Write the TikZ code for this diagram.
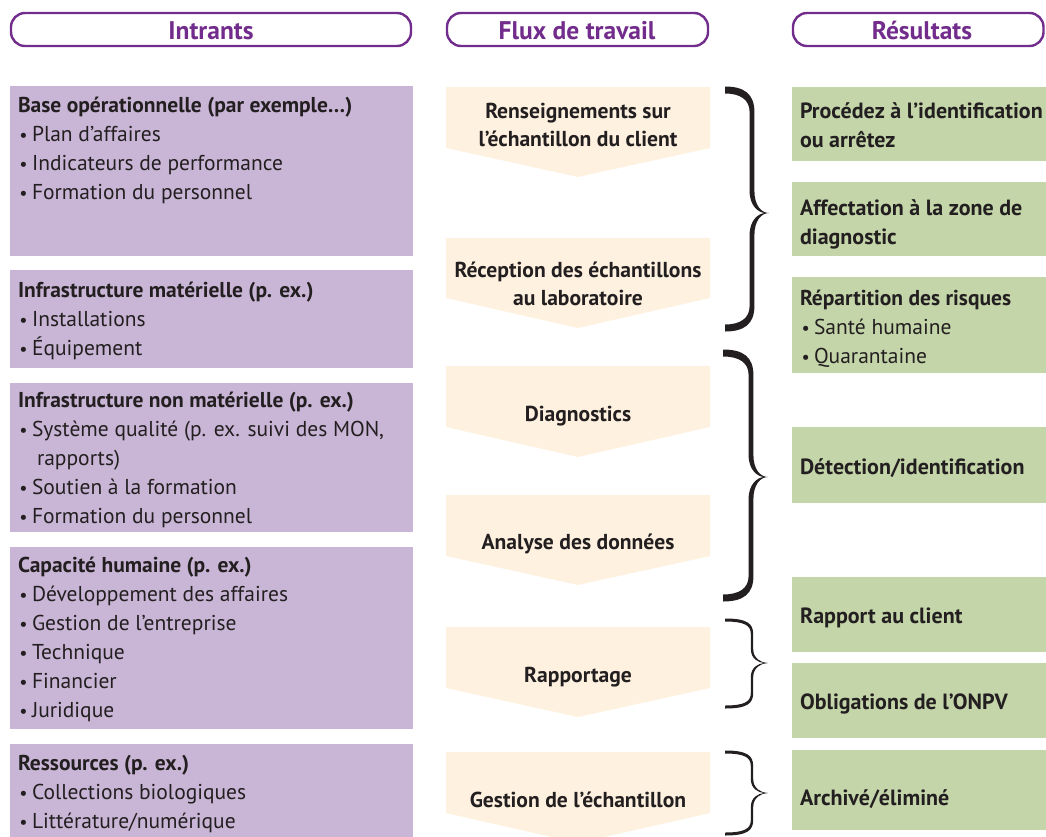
\documentclass[tikz,border=0pt]{standalone}
\usepackage{fontspec}
\setmainfont{PT Sans}
\definecolor{inbox}{HTML}{C9B6D6}
\definecolor{flowbox}{HTML}{FEF1DF}
\definecolor{outbox}{HTML}{C3D5A9}
\definecolor{hdr}{HTML}{722C8C}
\definecolor{ink}{HTML}{231F20}

% bullet followed by the item text
\newcommand\itm{\makebox[14pt][l]{\hspace{1.5pt}\scalebox{0.85}{•}}}

% downward chevron of the work-flow column: top, foot of the sides, tip
\newcommand\flowshape[3]{%
  \fill[flowbox] (446,#1) -- (710,#1) -- (710,#2) -- (578,#3) -- (446,#2) -- cycle;}

% filled curly brace: left x, spine x, tip x, top y, tip y, bottom y,
% half thickness at the ends, half thickness of the spine, hook radius
\newcommand\curlybrace[9]{%
  \fill[ink]
   (#1,#4-#7)
   .. controls ({#2+#8-0.45*#9},#4-#7) and (#2+#8,{#4-#7+0.35*#9}) .. (#2+#8,#4+#9)
   -- (#2+#8,#5-#9)
   .. controls (#2+#8,{#5-0.35*#9}) and ({#3-0.45*(#3-#2)},#5) .. (#3,#5)
   .. controls ({#3-0.45*(#3-#2)},#5) and (#2+#8,{#5+0.35*#9}) .. (#2+#8,#5+#9)
   -- (#2+#8,#6-#9)
   .. controls (#2+#8,{#6+#7-0.35*#9}) and ({#2+#8-0.45*#9},#6+#7) .. (#1,#6+#7)
   -- (#1,#6-#7)
   .. controls ({#2-#8-0.4*#9},#6-#7) and (#2-#8,{#6-#7-0.3*#9}) .. (#2-#8,#6-#9)
   -- (#2-#8,#5+#9)
   .. controls (#2-#8,{#5+0.3*#9}) and ({#3-0.6*(#3-#2)},#5+0.5) .. ({#3-0.25*(#3-#2)},#5)
   .. controls ({#3-0.6*(#3-#2)},#5-0.5) and (#2-#8,{#5-0.3*#9}) .. (#2-#8,#5-#9)
   -- (#2-#8,#4+#9)
   .. controls (#2-#8,{#4+#7+0.3*#9}) and ({#2-#8-0.4*#9},#4+#7) .. (#1,#4+#7)
   -- cycle;}

\begin{document}
\begin{tikzpicture}[x=1pt,y=-1pt,
  every node/.style={inner sep=0pt, outer sep=0pt, text=ink},
  % multi-line texts are placed by the baseline of their last line
  body/.style={font=\fontsize{21.5}{29}\selectfont, align=left, anchor=base west},
  flowtext/.style={font=\bfseries\fontsize{21.6}{28}\selectfont, align=center, anchor=base},
  outtext/.style={font=\fontsize{21.5}{29}\selectfont, align=left, anchor=base west},
  outbold/.style={outtext, font=\bfseries\fontsize{22}{29}\selectfont},
  header/.style={draw=hdr, line width=2.4pt, rounded corners=14pt},
  hdrtext/.style={font=\bfseries\fontsize{25.5}{28}\selectfont, text=hdr, anchor=base},
]
\useasboundingbox (0,0) rectangle (1046,836);
\clip (0,0) rectangle (1046,836);

% column headers
\draw[header] (11,13) rectangle (411,46);
\node[hdrtext] (hIn) at (211,39) {Intrants};
\draw[header] (447,13) rectangle (708,46);
\node[hdrtext] (hFlow) at (577,39) {Flux de travail};
\draw[header] (793,13) rectangle (1043.5,46);
\node[hdrtext] (hOut) at (922,39) {Résultats};

% inputs
\fill[inbox] (10,86) rectangle (413,256);
\fill[inbox] (10,270) rectangle (413,368);
\fill[inbox] (10,383) rectangle (413,532);
\fill[inbox] (10,547) rectangle (413,729);
\fill[inbox] (10,744) rectangle (413,840);

\node[body] (in1) at (18,199) {\textbf{Base opérationnelle (par exemple…)}\\
  \itm Plan d’affaires\\ \itm Indicateurs de performance\\ \itm Formation du personnel};
\node[body] (in2) at (18,355) {\textbf{Infrastructure matérielle (p. ex.)}\\
  \itm Installations\\ \itm Équipement};
\node[body] (in3) at (18,523) {\textbf{Infrastructure non matérielle (p. ex.)}\\
  \itm Système qualité (p. ex. suivi des MON,\\ \hspace*{19pt}rapports)\\
  \itm Soutien à la formation\\ \itm Formation du personnel};
\node[body] (in4) at (18,717) {\textbf{Capacité humaine (p. ex.)}\\
  \itm Développement des affaires\\ \itm Gestion de l’entreprise\\
  \itm Technique\\ \itm Financier\\ \itm Juridique};
\node[body] (in5) at (18,828) {\textbf{Ressources (p. ex.)}\\
  \itm Collections biologiques\\ \itm Littérature/numérique};

% work flow
\flowshape{87}{148}{177}
\flowshape{238}{298}{328}
\flowshape{366}{427}{457}
\flowshape{495}{556}{585}
\flowshape{627}{688}{717}
\flowshape{752}{813}{843}
\node[flowtext] (f1) at (578,146) {Renseignements sur\\l’échantillon du client};
\node[flowtext] (f2) at (578,305) {Réception des échantillons\\au laboratoire};
\node[flowtext] (f3) at (578,421) {Diagnostics};
\node[flowtext] (f4) at (578,549) {Analyse des données};
\node[flowtext] (f5) at (578,682) {Rapportage};
\node[flowtext] (f6) at (578,807) {Gestion de l’échantillon};

% braces grouping the steps
\curlybrace{725}{752}{769}{90}{213}{328}{3.5}{2.4}{22}
\curlybrace{723}{751}{768}{353}{477}{598}{3.5}{2.4}{22}
\curlybrace{725}{752}{768}{620}{663}{707}{1.5}{1.2}{14}
\curlybrace{725}{752}{768}{752}{793}{834}{1.5}{1.2}{14}

% results
\fill[outbox] (792,87) rectangle (1046,161);
\fill[outbox] (792,182) rectangle (1046,256);
\fill[outbox] (792,277) rectangle (1046,373);
\fill[outbox] (792,427) rectangle (1046,503);
\fill[outbox] (792,577) rectangle (1046,652);
\fill[outbox] (792,663) rectangle (1046,738);
\fill[outbox] (792,750) rectangle (1046,830);

\node[outbold] (o1) at (800,147) {Procédez à l’identification\\ou arrêtez};
\node[outbold] (o2) at (800,244) {Affectation à la zone de\\diagnostic};
\node[outtext] (o3) at (800,363) {\textbf{Répartition des risques}\\
  \itm Santé humaine\\ \itm Quarantaine};
\node[outbold] (o4) at (800,474) {Détection/identification};
\node[outbold] (o5) at (800,623) {Rapport au client};
\node[outbold] (o6) at (800,709) {Obligations de l’ONPV};
\node[outbold] (o7) at (800,805) {Archivé/éliminé};
\end{tikzpicture}
\end{document}
